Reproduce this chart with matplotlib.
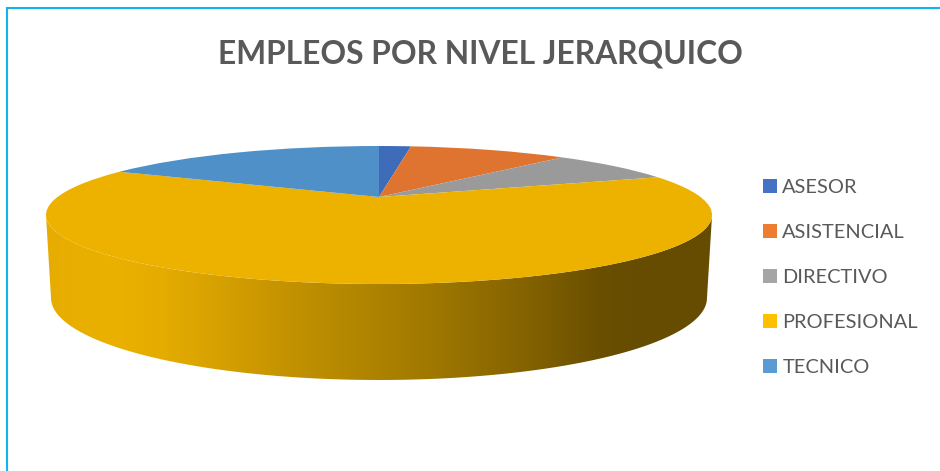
import numpy as np
import matplotlib
matplotlib.use("Agg")
import matplotlib.pyplot as plt
from matplotlib.transforms import Transform
from matplotlib.colors import LinearSegmentedColormap
from matplotlib.patches import Patch, PathPatch
from matplotlib.path import Path

plt.rcParams['font.family'] = ['Lato', 'DejaVu Sans']

title = "EMPLEOS POR NIVEL JERARQUICO"
categories = ["ASESOR", "ASISTENCIAL", "DIRECTIVO", "PROFESIONAL", "TECNICO"]
values = [2.0, 9.9, 7.7, 62.6, 17.8]
top_colors = ["#3F6CB8", "#DF7430", "#9A9A9A", "#EDB200", "#5090C8"]
legend_colors = ["#4472C4", "#ED7D31", "#A5A5A5", "#FFC000", "#5B9BD5"]

K = 0.261


class Persp(Transform):
    """Tilted-disc perspective from the unit circle to pixel-like axes coordinates."""
    input_dims = output_dims = 2

    def __init__(self, cx, cy, a, b):
        super().__init__()
        self.p = (cx, cy, a, b)

    def transform_non_affine(self, xy):
        xy = np.asarray(xy, float)
        cx, cy, a, b = self.p
        d = 1 + K * xy[:, 1]
        return np.column_stack([cx + a * xy[:, 0] / d, cy - b * xy[:, 1] / d])


top = Persp(379, 197, 321.5, 64.3)
bot = Persp(379, 276.6, 316.6, 76.4)

fig = plt.figure(figsize=(9.4, 4.71), dpi=100)
ax = fig.add_axes([0, 0, 1, 1])

wedges, _ = ax.pie(values, colors=top_colors, startangle=90, counterclock=False,
                   radius=1, center=(0, 0))
ax.set_aspect('auto')
ax.set_xlim(0, 940)
ax.set_ylim(471, 0)
ax.axis('off')
for w in wedges:
    w.set_transform(top + ax.transData)
    w.set_zorder(3)
    w.set_linewidth(0)

# Side wall
t = np.linspace(np.pi + np.arcsin(K), 2 * np.pi - np.arcsin(K), 200)
ring = np.column_stack([np.cos(t), np.sin(t)])
upper = top.transform(ring)
lower = bot.transform(ring)[::-1]
side = Path(np.vstack([upper, lower, upper[:1]]), closed=True)

stops = [(46, "#E6AC00"), (110, "#EBB100"), (160, "#E5AC00"), (200, "#DBA400"),
         (300, "#C09000"), (380, "#AD8200"), (450, "#9A7400"), (520, "#866400"),
         (600, "#6A4F00"), (640, "#664C00"), (712, "#664C00")]
x0, x1 = stops[0][0], stops[-1][0]
cmap = LinearSegmentedColormap.from_list(
    "side", [((x - x0) / (x1 - x0), c) for x, c in stops])
im = ax.imshow(np.linspace(0, 1, 700)[None, :], cmap=cmap, aspect='auto',
               extent=(x0, x1, 471, 0), zorder=2, interpolation='bilinear')
ax.set_xlim(0, 940)
ax.set_ylim(471, 0)
clip = PathPatch(side, transform=ax.transData, facecolor='none', edgecolor='none')
ax.add_patch(clip)
im.set_clip_path(clip)

# Chart border, top and left only
ax.plot([7, 7, 940], [471, 8, 8], color="#12B5EA", lw=1.5, zorder=5, solid_joinstyle='miter')

ax.text(480, 54, title, fontsize=22.9, fontweight='bold', color="#595959",
        ha='center', va='center')

handles = [Patch(facecolor=c, edgecolor='none') for c in legend_colors]
ax.legend(handles, categories, loc='upper left', bbox_to_anchor=(757 / 940, 1 - 173 / 471),
          bbox_transform=ax.transAxes, frameon=False, fontsize=14.4, labelcolor="#595959",
          handlelength=0.7, handleheight=0.7, handletextpad=0.27, labelspacing=1.4,
          borderpad=0.3, borderaxespad=0)

fig.savefig("out.png", dpi=100, facecolor='white')
